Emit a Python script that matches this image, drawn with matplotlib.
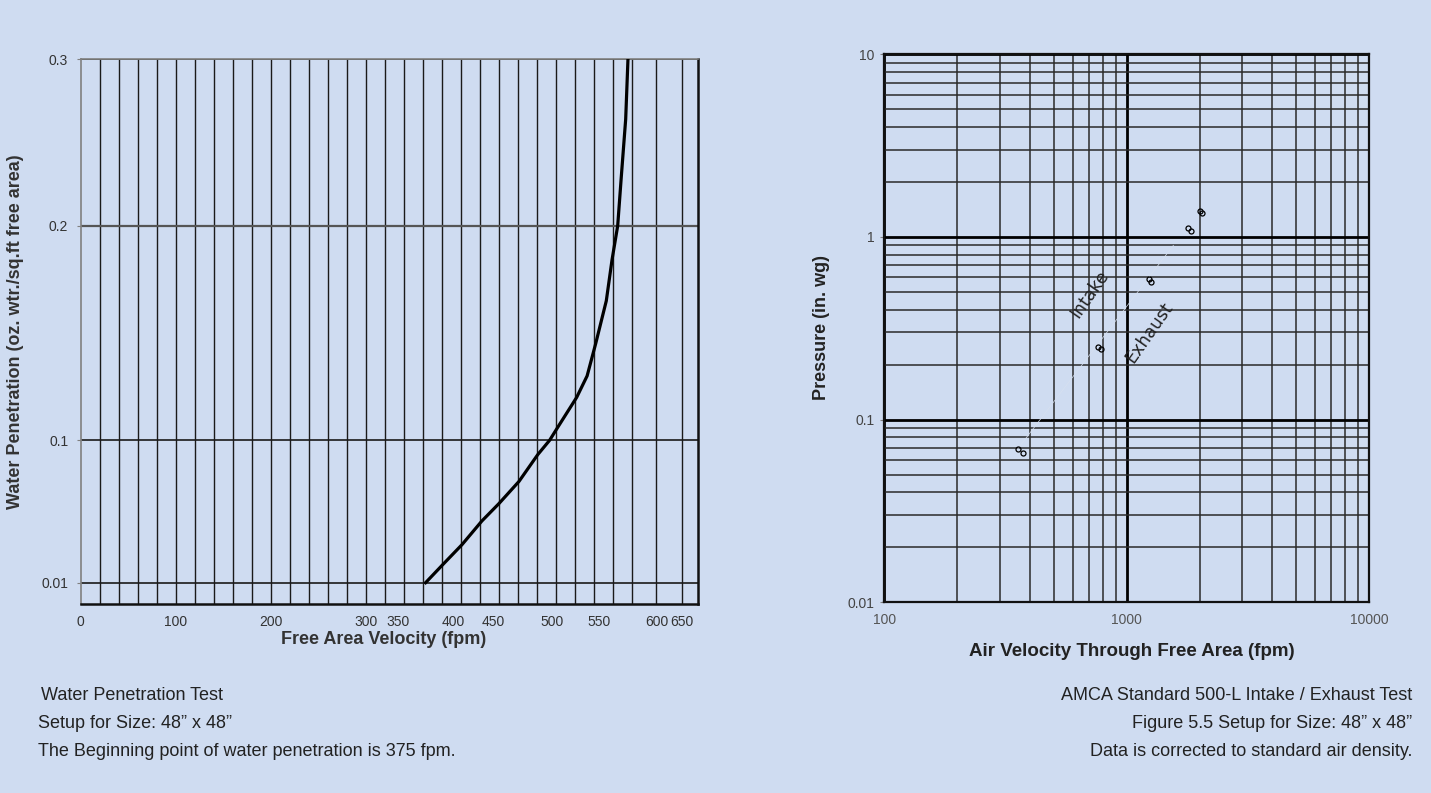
import numpy as np
import matplotlib
matplotlib.use("Agg")
import matplotlib.pyplot as plt
from matplotlib.ticker import FixedLocator, LogLocator, NullFormatter

plt.rcParams['font.family'] = ['Liberation Sans', 'DejaVu Sans']

BG = '#cfdcf1'
W, H = 1431, 793

# --- left chart: water penetration curve ---
VELOCITY_FPM = [375, 390, 411, 436, 455, 472, 488, 498, 506, 526, 537, 546,
                556, 561, 566, 569, 573, 575]
PENETRATION = [0.010, 0.021, 0.034, 0.049, 0.060, 0.074, 0.091, 0.100, 0.106,
               0.120, 0.130, 0.145, 0.165, 0.184, 0.200, 0.228, 0.264, 0.300]

X_TICKS = [0, 100, 200, 300, 350, 400, 450, 500, 550, 600, 650]
X_TICK_LABELS = [str(v) for v in X_TICKS]
Y_TICKS = [0.01, 0.1, 0.2, 0.3]
Y_TICK_LABELS = ['0.01', '0.1', '0.2', '0.3']

# the printed chart is hand scaled: grid cell per x tick, pixels above 0.01 per y tick
X_TICK_CELL = [0, 5, 10, 15, 16.7, 19.6, 21.7, 24.8, 27.3, 30.3, 31.63]
Y_TICK_PX = [0, 142.4, 357.0, 523.4]

# --- right chart: AMCA 500-L intake / exhaust points ---
INTAKE_FPM = [355, 765, 1235, 1790, 2000]
INTAKE_PRESSURE = [0.069, 0.251, 0.589, 1.12, 1.39]
EXHAUST_FPM = [373, 785, 1266, 1841, 2056]
EXHAUST_PRESSURE = [0.066, 0.243, 0.569, 1.08, 1.35]
TREND_FPM = [355, 1560]
TREND_PRESSURE = [0.069, 0.90]


def piecewise_scale(vals, pos):
    """Piecewise linear forward/inverse pair, extended linearly past the ends."""
    vals = np.asarray(vals, float)
    pos = np.asarray(pos, float)
    lo = (pos[1] - pos[0]) / (vals[1] - vals[0])
    hi = (pos[-1] - pos[-2]) / (vals[-1] - vals[-2])
    span = (vals[-1] - vals[0]) * 10
    v = np.concatenate([[vals[0] - span], vals, [vals[-1] + span]])
    p = np.concatenate([[pos[0] - span * lo], pos, [pos[-1] + span * hi]])
    return (lambda x: np.interp(x, v, p)), (lambda y: np.interp(y, p, v))


def fig_text(x, y, s, **kw):
    fig.text(x / W, 1 - y / H, s, **kw)


fig = plt.figure(figsize=(W / 100, H / 100), dpi=100, facecolor=BG)

# ---------------- left chart ----------------
ax1 = fig.add_axes([80.7 / W, 1 - 604 / H, 617 / W, 544.7 / H])
ax1.set_facecolor(BG)
fx, ix = piecewise_scale(X_TICKS, X_TICK_CELL)
fy, iy = piecewise_scale(Y_TICKS, Y_TICK_PX)
ax1.set_xscale('function', functions=(fx, ix))
ax1.set_yscale('function', functions=(fy, iy))
ax1.set_xlim(0, float(ix(32.47)))
ax1.set_ylim(float(iy(-21.3)), 0.3)

ax1.set_xticks(X_TICKS, X_TICK_LABELS)
ax1.set_yticks(Y_TICKS, Y_TICK_LABELS)
grid_x = list(ix(np.arange(1, 30))) + [600, 650]
ax1.xaxis.remove_overlapping_locs = False
ax1.xaxis.set_minor_locator(FixedLocator(grid_x))
ax1.xaxis.set_minor_formatter(NullFormatter())
ax1.grid(axis='x', which='minor', color='#1a1a1a', lw=1.0)
ax1.grid(axis='y', which='major', color='#1a1a1a', lw=1.2)
ax1.get_ygridlines()[2].set_color('#555555')
ax1.get_ygridlines()[2].set_linewidth(1.6)
ax1.tick_params(axis='x', which='both', length=0, pad=8, labelsize=10, labelcolor='#333333')
ax1.tick_params(axis='y', which='both', length=3, pad=6, labelsize=10,
                labelcolor='#333333', color='#808080')
ax1.tick_params(axis='y', which='minor', length=0)
for side in ['left', 'top']:
    ax1.spines[side].set_color('#808080')
    ax1.spines[side].set_linewidth(1.2)
for side in ['bottom', 'right']:
    ax1.spines[side].set_color('#111111')
    ax1.spines[side].set_linewidth(1.8)
ax1.set_axisbelow(True)

ax1.plot(VELOCITY_FPM, PENETRATION, color='black', lw=2.3, solid_joinstyle='round', zorder=3)

fig_text(384, 640, 'Free Area Velocity (fpm)', ha='center', va='center',
         fontsize=13, fontweight='bold', color='#333333')
fig_text(16, 331.6, 'Water Penetration (oz. wtr./sq.ft free area)', ha='center', va='center',
         rotation=90, fontsize=13, fontweight='bold', color='#333333')

# ---------------- right chart ----------------
ax2 = fig.add_axes([884.3 / W, 1 - 602.3 / H, 484.6 / W, 548 / H])
ax2.set_facecolor(BG)
ax2.set_xscale('log')
ax2.set_yscale('log')
ax2.set_xlim(100, 10000)
ax2.set_ylim(0.01, 10)
ax2.set_xticks([100, 1000, 10000], ['100', '1000', '10000'])
ax2.set_yticks([0.01, 0.1, 1, 10], ['0.01', '0.1', '1', '10'])
ax2.xaxis.set_minor_locator(LogLocator(base=10, subs=np.arange(2, 10)))
ax2.yaxis.set_minor_locator(LogLocator(base=10, subs=np.arange(2, 10)))
ax2.xaxis.set_minor_formatter(NullFormatter())
ax2.yaxis.set_minor_formatter(NullFormatter())
ax2.grid(which='major', color='black', lw=2.0)
ax2.grid(which='minor', color='#2a2a2a', lw=1.1)
ax2.tick_params(axis='x', which='both', length=0, pad=8, labelsize=10, labelcolor='#555555')
ax2.tick_params(axis='y', which='major', length=3, pad=4, labelsize=10,
                labelcolor='#444444', color='#808080')
ax2.tick_params(axis='y', which='minor', length=0)
for side in ax2.spines:
    ax2.spines[side].set_color('#111111')
    ax2.spines[side].set_linewidth(1.6)
ax2.set_axisbelow(True)

ax2.plot(TREND_FPM, TREND_PRESSURE, color='#d6e0f0', lw=0.5, zorder=1.5)
ax2.plot(INTAKE_FPM, INTAKE_PRESSURE, ls='none', marker='o', ms=3.6,
         mfc='none', mec='black', mew=0.9, zorder=3)
ax2.plot(EXHAUST_FPM, EXHAUST_PRESSURE, ls='none', marker='o', ms=3.6,
         mfc='none', mec='black', mew=0.9, zorder=3)
ax2.text(706, 0.488, 'Intake', rotation=55, rotation_mode='anchor', ha='center', va='center',
         fontsize=12.5, family='DejaVu Sans', color='#222222')
ax2.text(1239, 0.298, 'Exhaust', rotation=55, rotation_mode='anchor', ha='center', va='center',
         fontsize=12.5, family='DejaVu Sans', color='#222222')

fig_text(1132, 651, 'Air Velocity Through Free Area (fpm)', ha='center', va='center',
         fontsize=13.5, fontweight='bold', color='#222222')
fig_text(822, 328, 'Pressure (in. wg)', ha='center', va='center',
         rotation=90, fontsize=13, fontweight='bold', color='#222222')

# ---------------- notes ----------------
notes_left = ['Water Penetration Test',
              'Setup for Size: 48\u201d x 48\u201d',
              'The Beginning point of water penetration is 375 fpm.']
notes_right = ['AMCA Standard 500-L Intake / Exhaust Test',
               'Figure 5.5 Setup for Size: 48\u201d x 48\u201d',
               'Data is corrected to standard air density.']
for i, (l, r) in enumerate(zip(notes_left, notes_right)):
    y = 695 + i * 28.5
    fig_text(38 + (3 if i == 0 else 0), y, l, ha='left', va='center', fontsize=13, color='#222222')
    fig_text(1412, y, r, ha='right', va='center', fontsize=13, color='#222222')

fig.savefig('out.png', dpi=100, facecolor=BG)
